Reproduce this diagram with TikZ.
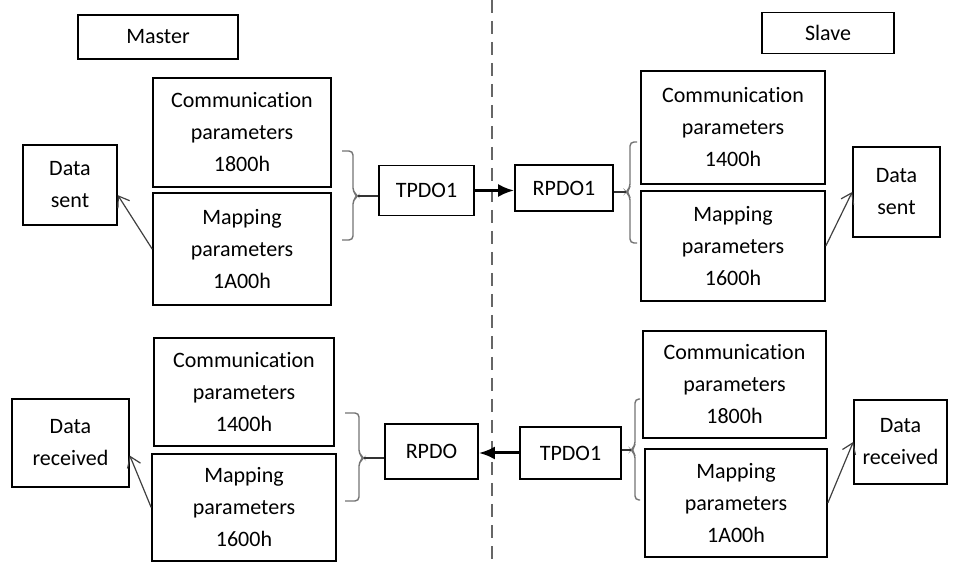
\documentclass[tikz,border=0pt]{standalone}
\usepackage{fontspec}
\setmainfont{Carlito}[Ligatures={NoCommon, NoRare}]
\usepackage{tikz}
\usetikzlibrary{arrows.meta}

\begin{document}
\begin{tikzpicture}[x=0.5pt, y=-0.5pt,
  font=\fontsize{11}{16}\selectfont,
  box/.style={draw, line width=0.8pt, align=center, inner sep=0pt},
  bracket/.style={draw=black!55, line width=0.7pt, rounded corners=2pt},
  stub/.style={draw=black!80, line width=0.6pt},
  bus/.style={line width=1.5pt, -{Latex[length=8pt, width=6.5pt]}},
  feed/.style={draw=black!75, line width=0.6pt, -{Straight Barb[length=5pt, width=7pt]}}]
\useasboundingbox (0,0) rectangle (953,566);

% divider between master and slave
\coordinate (divtop) at (492,0);
\coordinate (divbot) at (492,566);
\draw[black!60, line width=1pt, dash pattern=on 6.5pt off 4pt] (divtop) -- (divbot);

\node[box, minimum width=80pt, minimum height=22pt] (master) at (158,37) {Master};
\node[box, minimum width=66pt, minimum height=20.5pt] (slave) at (828,33) {Slave};

% master transmits
\node[box, minimum width=89pt, minimum height=54.5pt] (commA) at (242,132.5) {Communication\\parameters\\1800h};
\node[box, minimum width=89pt, minimum height=56pt] (mapA) at (242,249) {Mapping\\parameters\\1A00h};
\node[box, minimum width=47pt, minimum height=40pt] (sentA) at (70,185) {Data\\sent};
\node[box, minimum width=47.5pt, minimum height=25pt] (tpdoA) at (426.5,190.5) {TPDO1};

% slave receives
\node[box, minimum width=49pt, minimum height=23pt] (rpdoB) at (564,188) {RPDO1};
\node[box, minimum width=92pt, minimum height=56.5pt] (commB) at (733,127.5) {Communication\\parameters\\1400h};
\node[box, minimum width=92pt, minimum height=55pt] (mapB) at (733,246) {Mapping\\parameters\\1600h};
\node[box, minimum width=43.5pt, minimum height=45pt] (sentB) at (896.5,192) {Data\\sent};

% master receives
\node[box, minimum width=90pt, minimum height=54pt] (commC) at (244,392) {Communication\\parameters\\1400h};
\node[box, minimum width=92pt, minimum height=53.5pt] (mapC) at (244,507.5) {Mapping\\parameters\\1600h};
\node[box, minimum width=58.5pt, minimum height=44pt] (recvC) at (70.5,443) {Data\\received};
\node[box, minimum width=46.5pt, minimum height=27.5pt] (rpdoC) at (431.5,451.5) {RPDO};

% slave transmits
\node[box, minimum width=50.5pt, minimum height=26pt] (tpdoD) at (570.5,453) {TPDO1};
\node[box, minimum width=91.5pt, minimum height=53.5pt] (commD) at (734.5,384.5) {Communication\\parameters\\1800h};
\node[box, minimum width=91pt, minimum height=54pt] (mapD) at (736,503) {Mapping\\parameters\\1A00h};
\node[box, minimum width=46.5pt, minimum height=42pt] (recvD) at (900.5,442) {Data\\received};

% braces
\coordinate (tipA) at (358,196);
\coordinate (tipB) at (626,192);
\coordinate (tipC) at (364,458);
\coordinate (tipD) at (631,450);
\draw[bracket] (342,151) -- (353,151) -- (353,192) -- (tipA) -- (353,200) -- (353,240) -- (342,240);
\draw[bracket] (637,142) -- (630,142) -- (630,188) -- (tipB) -- (630,196) -- (630,243) -- (637,243);
\draw[bracket] (345,413) -- (359,413) -- (359,454) -- (tipC) -- (359,462) -- (359,501) -- (345,501);
\draw[bracket] (640,399) -- (635,399) -- (635,446) -- (tipD) -- (635,454) -- (635,500) -- (640,500);
\draw[stub] (tipA) -- (tipA -| tpdoA.west);
\draw[stub] (tipB) -- (tipB -| rpdoB.east);
\draw[stub] (tipC) -- (tipC -| rpdoC.west);
\draw[stub] (tipD) -- (tipD -| tpdoD.east);

% PDO transfer
\draw[bus] (tpdoA.east) -- (tpdoA.east -| rpdoB.west);
\draw[bus] (tpdoD.west) -- (tpdoD.west -| rpdoC.east);

% data flow
\draw[feed] (mapA.west) -- (sentA.-12);
\draw[feed] (mapB.east) -- (sentB.west);
\draw[feed] (mapC.west) -- (recvC.-12);
\draw[feed] (mapD.east) -- (recvD.west);
\end{tikzpicture}
\end{document}
